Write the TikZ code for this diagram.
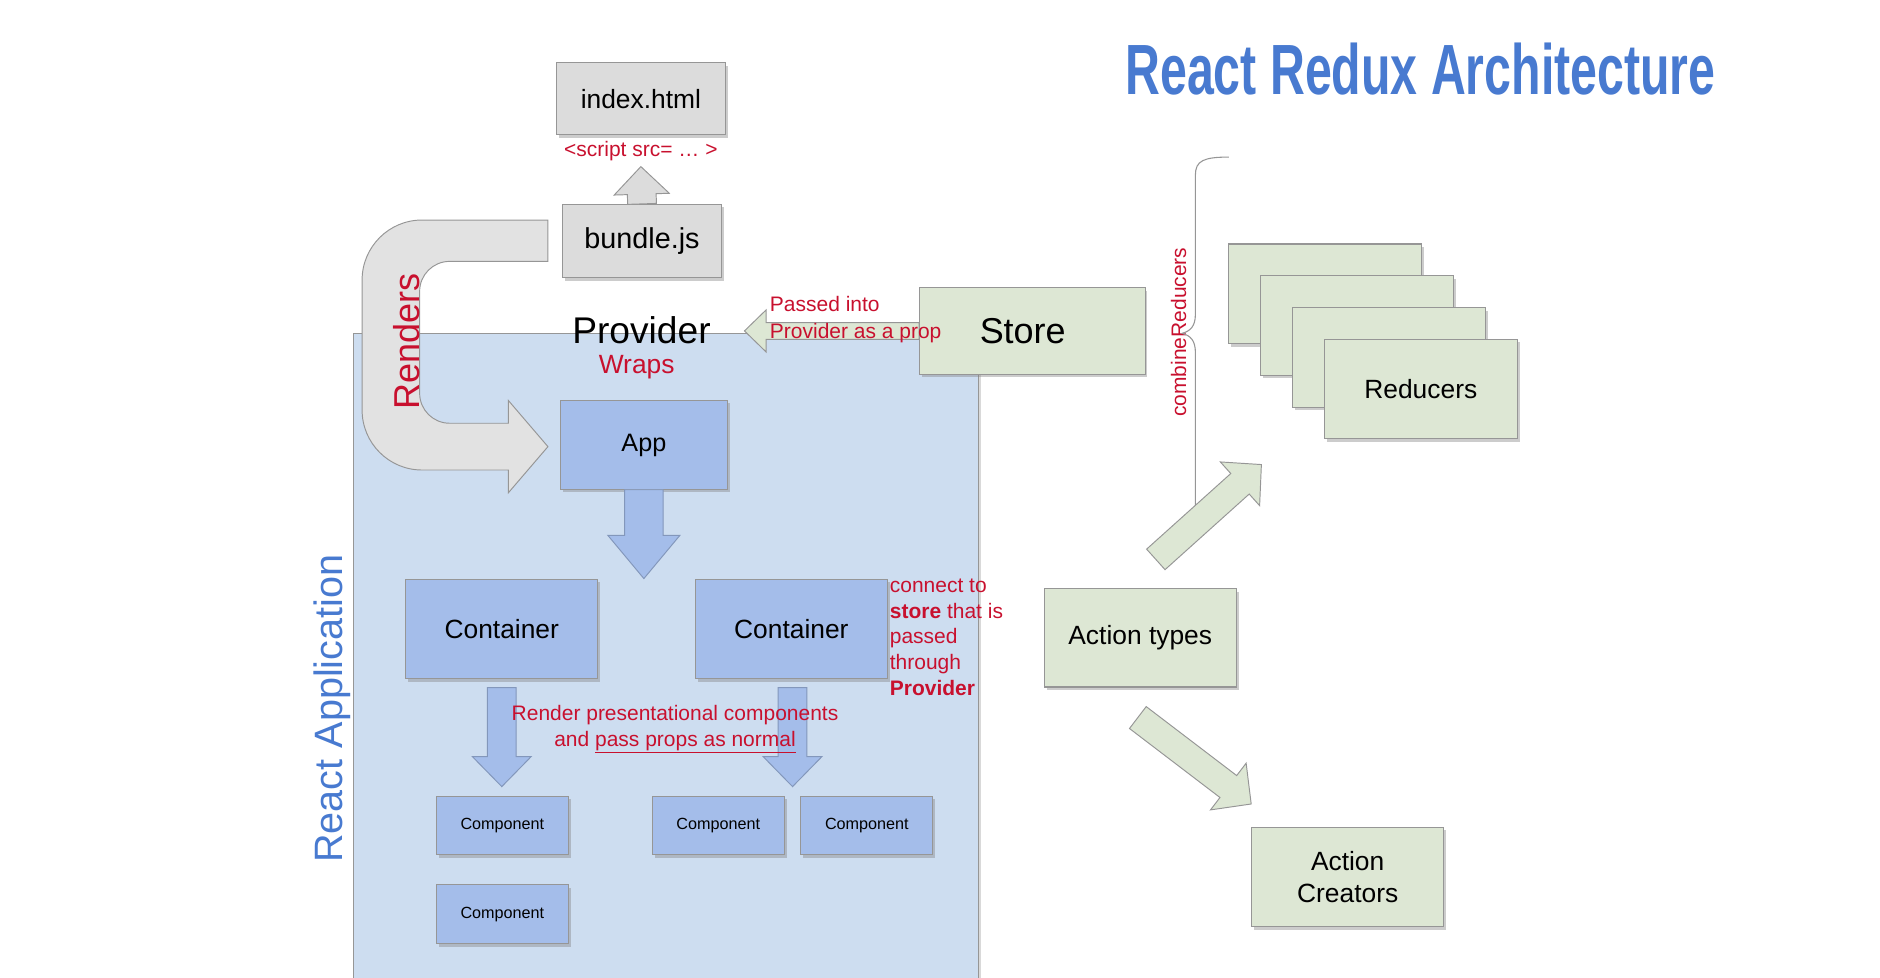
\documentclass[tikz,border=0pt]{standalone}
\usepackage{fontspec}
\setmainfont{Liberation Sans}
\usepackage{graphicx}
\usetikzlibrary{calc,shadows}

\definecolor{boxgray}{RGB}{220,220,220}
\definecolor{arrgray}{RGB}{226,226,226}
\definecolor{linegray}{RGB}{150,150,150}
\definecolor{appblue}{RGB}{205,221,240}
\definecolor{boxblue}{RGB}{164,189,234}
\definecolor{boxgreen}{RGB}{221,231,212}
\definecolor{notered}{RGB}{200,16,46}
\definecolor{titleblue}{RGB}{72,122,208}

% fat arrow: [style]{from}{to}{half shaft}{half head}{head length}
\newcommand{\fatarrow}[6][]{%
  \coordinate (fa-a) at #2;
  \coordinate (fa-b) at #3;
  \coordinate (fa-h) at ($(fa-b)!#6pt!(fa-a)$);
  \path[fat,#1] ($(fa-a)!#4pt!90:(fa-b)$) -- ($(fa-h)!#4pt!90:(fa-b)$)
    -- ($(fa-h)!#5pt!90:(fa-b)$) -- (fa-b) -- ($(fa-h)!#5pt!-90:(fa-b)$)
    -- ($(fa-h)!#4pt!-90:(fa-b)$) -- ($(fa-a)!#4pt!-90:(fa-b)$) -- cycle;
}

\begin{document}
\begin{tikzpicture}[x=1pt, y=-1pt,
    box/.style = {draw=linegray, line width=0.9pt, inner sep=0pt, align=center,
      font=\fontsize{22}{26}\selectfont,
      drop shadow={shadow xshift=2pt, shadow yshift=-2.5pt, opacity=0.4}},
    gbox/.style = {box, fill=boxgray},
    bbox/.style = {box, fill=boxblue},
    ebox/.style = {box, fill=boxgreen, minimum width=160, minimum height=83},
    comp/.style = {bbox, minimum width=110, minimum height=49, font=\fontsize{13.5}{16}\selectfont},
    note/.style = {text=notered, inner sep=0pt, font=\fontsize{17.5}{21.6}\selectfont},
    fat/.style = {draw=linegray, line width=0.8pt},
    grayarr/.style = {fill=boxgray},
    greenarr/.style = {fill=boxgreen},
    bluearr/.style = {fill=boxblue, draw=boxblue!80!black}]

    \useasboundingbox (0,0) rectangle (1568,815);
    \clip (0,0) rectangle (1568,815);

    % React application area
    \node[draw=linegray, line width=0.9pt, fill=appblue, minimum width=522, minimum height=560,
      anchor=north west, drop shadow={shadow xshift=1.5pt, shadow yshift=0pt, opacity=0.3}] (reactapp) at (294,278) {};

    % Renders arrow (bundle.js -> App)
    \path[fat, fill=arrgray] (457,183.5) -- (352,183.5) .. controls (324.4,183.5) and (302,205.9) .. (302,233.5)
      -- (302,342) .. controls (302,369.6) and (324.4,392) .. (352,392) -- (424,392) -- (424,411)
      -- (457,372.5) -- (424,334) -- (424,353) -- (375,353) .. controls (361.2,353) and (350,341.8) .. (350,328)
      -- (350,243) .. controls (350,229.2) and (361.2,218) .. (375,218) -- (457,218) -- cycle;
    \node[note, rotate=90, font=\fontsize{30}{36}\selectfont] (renders) at (339,285) {Renders};

    % Boxes
    \node[gbox, minimum width=141, minimum height=60] (index) at (534.5,82.5) {index.html};
    \node[gbox, minimum width=132, minimum height=61, font=\fontsize{24}{28}\selectfont] (bundle) at (535.5,201) {bundle.js};
    \node[bbox, minimum width=139, minimum height=74, font=\fontsize{21}{25}\selectfont, text depth=4pt] (app) at (537,371) {App};
    \node[bbox, minimum width=160, minimum height=83] (cont1) at (418.5,524.5) {Container};
    \node[bbox, minimum width=160, minimum height=83] (cont2) at (660,524.5) {Container};
    \node[comp] (comp1) at (419,688.5) {Component};
    \node[comp] (comp2) at (599,688.5) {Component};
    \node[comp] (comp3) at (723,688.5) {Component};
    \node[comp] (comp4) at (419,762.5) {Component};
    \node[ebox, minimum width=188, minimum height=72, font=\fontsize{30}{36}\selectfont] (store) at (861,276) {Store\hspace{16pt}};
    \foreach \i in {0,1,2}
        \node[ebox, minimum width=161] (r\i) at ({1105+26.6*\i},{245+26.5*\i}) {};
    \node[ebox, minimum width=161] (r3) at (1185,324.5) {Reducers};
    \node[ebox, minimum height=82] (acttypes) at (951,532) {Action types};
    \node[ebox] (actcreat) at (1124,731.5) {Action\\Creators};

    % Texts
    \node[anchor=base west, inner sep=0pt, text=titleblue] (title) at (938.5,79)
        {\resizebox{492pt}{43pt}{\bfseries React Redux Architecture}};
    \node[inner sep=0pt, font=\fontsize{31}{36}\selectfont] (prov) at (535,275) {Provider};
    \node[note, font=\fontsize{22}{26}\selectfont] (wraps) at (531,306) {Wraps};
    \node[note] (script) at (534.5,126) {<script src= … >};
    \node[inner sep=0pt, rotate=90, text=titleblue, font=\fontsize{33}{38}\selectfont] (reactlbl) at (277,591) {React Application};
    \node[note, rotate=90] (combine) at (983,277) {combineReducers};

    % combineReducers brace
    \draw[linegray, line width=0.9pt] (1025,131) .. controls (1004,131) and (997,134) .. (997,146) -- (997,262)
      .. controls (997,272) and (993,276) .. (986,278) .. controls (993,280) and (997,284) .. (997,294) -- (997,440);

    % Fat arrows
    \fatarrow[grayarr]{(bundle.north)}{($(index.south)+(0,26)$)}{12}{23}{23}
    \fatarrow[greenarr]{(store.west)}{($(prov.east |- store.west)+(28,0)$)}{7}{17.5}{18}
    \fatarrow[bluearr]{(app.south)}{(app.south |- cont1.north)}{16}{30}{36}
    \fatarrow[bluearr]{($(cont1.south)+(0,7)$)}{($(cont1.south |- comp1.north)+(0,-7.5)$)}{12}{24.5}{25}
    \fatarrow[bluearr]{($(cont2.south)+(1,7)$)}{($(cont2.south |- comp2.north)+(1,-7.5)$)}{12}{24.5}{25}
    \fatarrow[greenarr]{($(acttypes.north)+(13,-24)$)}{($(r3.south west)+(-52,21)$)}{11.5}{24.5}{24}
    \fatarrow[greenarr]{($(acttypes.south)+(-2,25)$)}{($(actcreat.north west)+(0,-19)$)}{11.5}{24.5}{24}

    % Notes
    \node[note, anchor=west, align=left, font=\fontsize{17.5}{22.6}\selectfont] (passed) at (642,266.5)
        {Passed into\\Provider as a prop};
    \node[note, anchor=west, align=left] (connect) at (742,531.5)
        {connect to\\\textbf{store} that is\\passed\\through\\\textbf{Provider}};
    \node[note, align=center, font=\fontsize{17.5}{22}\selectfont] (render) at (563,608)
        {Render presentational components\\and \underline{pass props as normal}};

\end{tikzpicture}
\end{document}
